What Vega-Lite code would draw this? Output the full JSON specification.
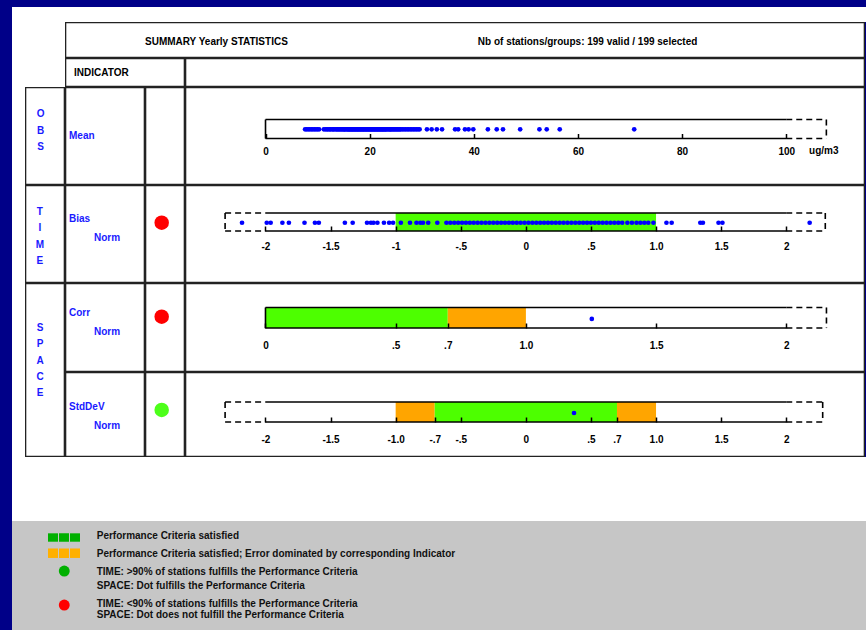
{
"$schema": "https://vega.github.io/schema/vega-lite/v6.json",
"background": "#000088",
"padding": {"left": 12, "top": 7, "right": 0, "bottom": 0},
"spacing": 0,
"config": {
  "view": {"stroke": null, "fill": "white"},
  "concat": {"spacing": 0},
  "text": {"font": "Liberation Sans", "fontSize": 10, "fontWeight": "bold", "color": "#000"},
  "axis": {"labelFont": "Liberation Sans", "labelFontSize": 10, "labelFontWeight": "bold", "labelColor": "#000"}
},
"vconcat": [
  {"width": 854, "height": 15, "data": {"values": [{}]}, "mark": {"type": "text", "text": ""}, "encoding": {"x": {"datum": 50, "type": "quantitative", "scale": {"domain": [0, 100]}, "axis": null}, "y": {"datum": 50, "type": "quantitative", "scale": {"domain": [0, 100]}, "axis": null}}},
  {"hconcat": [
    {"width": 53, "height": 36, "data": {"values": [{}]}, "mark": {"type": "text", "text": ""}, "encoding": {"x": {"datum": 50, "type": "quantitative", "scale": {"domain": [0, 100]}, "axis": null}, "y": {"datum": 50, "type": "quantitative", "scale": {"domain": [0, 100]}, "axis": null}}},
    {"width": 800, "height": 36, "data": {"values": [{}]}, "layer": [
      {"mark": {"type": "text", "text": "SUMMARY Yearly STATISTICS", "align": "left", "baseline": "middle"},
       "encoding": {"x": {"datum": 10, "type": "quantitative", "scale": {"domain": [0, 100], "nice": false, "zero": false}, "axis": null},
                    "y": {"datum": 55.6, "type": "quantitative", "scale": {"domain": [0, 100], "nice": false, "zero": false, "reverse": true}, "axis": null}}},
      {"mark": {"type": "text", "text": "Nb of stations/groups: 199 valid / 199 selected", "align": "left", "baseline": "middle"},
       "encoding": {"x": {"datum": 51.6, "type": "quantitative", "axis": null}, "y": {"datum": 55.6, "type": "quantitative", "axis": null}}},
      {"mark": {"type": "rect", "filled": false, "color": "#222", "strokeWidth": 2.6, "clip": true}, "encoding": {"x": {"datum": 0, "type": "quantitative", "axis": null}, "x2": {"datum": 100}, "y": {"datum": 0, "type": "quantitative", "axis": null}, "y2": {"datum": 100}}}
    ]}
  ]},
  {"hconcat": [
    {"width": 53, "height": 29, "data": {"values": [{}]}, "mark": {"type": "text", "text": ""}, "encoding": {"x": {"datum": 50, "type": "quantitative", "scale": {"domain": [0, 100]}, "axis": null}, "y": {"datum": 50, "type": "quantitative", "scale": {"domain": [0, 100]}, "axis": null}}},
    {"width": 120, "height": 29, "data": {"values": [{}]}, "layer": [
      {"mark": {"type": "text", "text": "INDICATOR", "align": "left", "baseline": "middle"},
       "encoding": {"x": {"datum": 7.5, "type": "quantitative", "scale": {"domain": [0, 100], "nice": false, "zero": false}, "axis": null},
                    "y": {"datum": 52.8, "type": "quantitative", "scale": {"domain": [0, 100], "nice": false, "zero": false, "reverse": true}, "axis": null}}},
      {"mark": {"type": "rect", "filled": false, "color": "#222", "strokeWidth": 2.6, "clip": true}, "encoding": {"x": {"datum": 0, "type": "quantitative", "axis": null}, "x2": {"datum": 100}, "y": {"datum": 0, "type": "quantitative", "axis": null}, "y2": {"datum": 100}}}
    ]},
    {"width": 680, "height": 29, "data": {"values": [{}]}, "layer": [
      {"mark": {"type": "rect", "filled": false, "color": "#222", "strokeWidth": 2.6, "clip": true}, "encoding": {"x": {"datum": 0, "type": "quantitative", "scale": {"domain": [0, 100], "nice": false, "zero": false}, "axis": null}, "x2": {"datum": 100}, "y": {"datum": 0, "type": "quantitative", "scale": {"domain": [0, 100], "nice": false, "zero": false, "reverse": true}, "axis": null}, "y2": {"datum": 100}}}
    ]}
  ]},
  {"hconcat": [
    {"width": 13, "height": 98, "data": {"values": [{}]}, "mark": {"type": "text", "text": ""}, "encoding": {"x": {"datum": 50, "type": "quantitative", "scale": {"domain": [0, 100]}, "axis": null}, "y": {"datum": 50, "type": "quantitative", "scale": {"domain": [0, 100]}, "axis": null}}},
    {"width": 40, "height": 98, "data": {"values": [{}]}, "layer": [
      {"mark": {"type": "text", "text": ["O", "B", "S"], "lineHeight": 16.5, "align": "center", "baseline": "middle", "color": "#1a1aff"},
       "encoding": {"x": {"datum": 39, "type": "quantitative", "scale": {"domain": [0, 100], "nice": false, "zero": false}, "axis": null},
                    "y": {"datum": 27.6, "type": "quantitative", "scale": {"domain": [0, 100], "nice": false, "zero": false, "reverse": true}, "axis": null}}},
      {"mark": {"type": "rect", "filled": false, "color": "#222", "strokeWidth": 2.6, "clip": true}, "encoding": {"x": {"datum": 0, "type": "quantitative", "axis": null}, "x2": {"datum": 100}, "y": {"datum": 0, "type": "quantitative", "axis": null}, "y2": {"datum": 100}}}
    ]},
    {"width": 80, "height": 98, "data": {"values": [{}]}, "layer": [
      {"mark": {"type": "text", "text": "Mean", "align": "left", "baseline": "middle", "color": "#1a1aff"},
       "encoding": {"x": {"datum": 5, "type": "quantitative", "scale": {"domain": [0, 100], "nice": false, "zero": false}, "axis": null},
                    "y": {"datum": 49.7, "type": "quantitative", "scale": {"domain": [0, 100], "nice": false, "zero": false, "reverse": true}, "axis": null}}},
      {"mark": {"type": "rect", "filled": false, "color": "#222", "strokeWidth": 2.6, "clip": true}, "encoding": {"x": {"datum": 0, "type": "quantitative", "axis": null}, "x2": {"datum": 100}, "y": {"datum": 0, "type": "quantitative", "axis": null}, "y2": {"datum": 100}}}
    ]},
    {"width": 40, "height": 98, "data": {"values": [{}]}, "layer": [
      {"mark": {"type": "rect", "filled": false, "color": "#222", "strokeWidth": 2.6, "clip": true}, "encoding": {"x": {"datum": 0, "type": "quantitative", "scale": {"domain": [0, 100], "nice": false, "zero": false}, "axis": null}, "x2": {"datum": 100}, "y": {"datum": 0, "type": "quantitative", "scale": {"domain": [0, 100], "nice": false, "zero": false, "reverse": true}, "axis": null}, "y2": {"datum": 100}}}
    ]},
    {"width": 680, "height": 98, "data": {"values": [{}]}, "layer": [
      {"data": {"values": [{"mean": 7.6}, {"mean": 7.9}, {"mean": 8.2}, {"mean": 8.5}, {"mean": 8.8}, {"mean": 9.1}, {"mean": 9.4}, {"mean": 9.7}, {"mean": 10.0}, {"mean": 10.3}, {"mean": 11.2}, {"mean": 11.5}, {"mean": 11.8}, {"mean": 12.0}, {"mean": 12.3}, {"mean": 12.5}, {"mean": 12.8}, {"mean": 13.0}, {"mean": 13.2}, {"mean": 13.5}, {"mean": 13.7}, {"mean": 13.9}, {"mean": 14.1}, {"mean": 14.3}, {"mean": 14.5}, {"mean": 14.7}, {"mean": 14.9}, {"mean": 15.1}, {"mean": 15.2}, {"mean": 15.4}, {"mean": 15.6}, {"mean": 15.8}, {"mean": 15.9}, {"mean": 16.1}, {"mean": 16.2}, {"mean": 16.4}, {"mean": 16.5}, {"mean": 16.7}, {"mean": 16.8}, {"mean": 17.0}, {"mean": 17.1}, {"mean": 17.3}, {"mean": 17.4}, {"mean": 17.6}, {"mean": 17.7}, {"mean": 17.9}, {"mean": 18.0}, {"mean": 18.2}, {"mean": 18.3}, {"mean": 18.5}, {"mean": 18.6}, {"mean": 18.8}, {"mean": 18.9}, {"mean": 19.1}, {"mean": 19.2}, {"mean": 19.4}, {"mean": 19.5}, {"mean": 19.7}, {"mean": 19.8}, {"mean": 20.0}, {"mean": 20.1}, {"mean": 20.3}, {"mean": 20.4}, {"mean": 20.6}, {"mean": 20.7}, {"mean": 20.9}, {"mean": 21.0}, {"mean": 21.2}, {"mean": 21.3}, {"mean": 21.5}, {"mean": 21.6}, {"mean": 21.8}, {"mean": 21.9}, {"mean": 22.1}, {"mean": 22.2}, {"mean": 22.4}, {"mean": 22.5}, {"mean": 22.7}, {"mean": 22.8}, {"mean": 23.0}, {"mean": 23.1}, {"mean": 23.3}, {"mean": 23.5}, {"mean": 23.7}, {"mean": 23.9}, {"mean": 24.0}, {"mean": 24.2}, {"mean": 24.4}, {"mean": 24.6}, {"mean": 24.8}, {"mean": 25.0}, {"mean": 25.2}, {"mean": 25.4}, {"mean": 25.6}, {"mean": 25.8}, {"mean": 26.0}, {"mean": 26.3}, {"mean": 26.6}, {"mean": 26.9}, {"mean": 27.2}, {"mean": 27.5}, {"mean": 27.8}, {"mean": 28.1}, {"mean": 28.4}, {"mean": 28.7}, {"mean": 29.0}, {"mean": 29.3}, {"mean": 29.6}, {"mean": 31.0}, {"mean": 31.9}, {"mean": 32.9}, {"mean": 33.9}, {"mean": 36.4}, {"mean": 37.0}, {"mean": 38.3}, {"mean": 39.0}, {"mean": 39.9}, {"mean": 42.7}, {"mean": 44.4}, {"mean": 45.6}, {"mean": 48.9}, {"mean": 52.6}, {"mean": 54.0}, {"mean": 56.5}, {"mean": 70.8}]},
       "mark": {"type": "point", "filled": true, "color": "#0000ff", "size": 22, "opacity": 1},
       "encoding": {
         "x": {"field": "mean", "type": "quantitative", "scale": {"domain": [-15.46, 115.12], "nice": false, "zero": false},
               "axis": {"orient": "bottom", "offset": -46.5, "values": [0, 20, 40, 60, 80, 100], "domain": false, "grid": false, "ticks": true, "tickSize": -5, "tickWidth": 1.5, "tickColor": "#000", "labelPadding": 17.5, "labelBaseline": "middle", "labelFlush": false, "labelOverlap": false, "labelBound": false, "title": null, "zindex": 1}},
         "y": {"datum": 43.2, "type": "quantitative", "scale": {"domain": [0, 100], "nice": false, "zero": false, "reverse": true}, "axis": null}}},
      {"mark": {"type": "rule", "color": "#000", "strokeWidth": 1.6}, "encoding": {"x": {"datum": 0, "type": "quantitative"}, "x2": {"datum": 100}, "y": {"datum": 33.2, "type": "quantitative", "axis": null}}},
      {"mark": {"type": "rule", "color": "#000", "strokeWidth": 1.6}, "encoding": {"x": {"datum": 0, "type": "quantitative"}, "x2": {"datum": 100}, "y": {"datum": 52.6, "type": "quantitative", "axis": null}}},
      {"mark": {"type": "rule", "color": "#000", "strokeWidth": 1.6}, "encoding": {"x": {"datum": 0, "type": "quantitative"}, "y": {"datum": 33.2, "type": "quantitative", "axis": null}, "y2": {"datum": 52.6}}},
      {"mark": {"type": "rule", "color": "#000", "strokeWidth": 1.6, "strokeDash": [6, 4]}, "encoding": {"x": {"datum": 100, "type": "quantitative"}, "x2": {"datum": 107.7}, "y": {"datum": 33.2, "type": "quantitative", "axis": null}}},
      {"mark": {"type": "rule", "color": "#000", "strokeWidth": 1.6, "strokeDash": [6, 4]}, "encoding": {"x": {"datum": 100, "type": "quantitative"}, "x2": {"datum": 107.7}, "y": {"datum": 52.6, "type": "quantitative", "axis": null}}},
      {"mark": {"type": "rule", "color": "#000", "strokeWidth": 1.6, "strokeDash": [6, 4]}, "encoding": {"x": {"datum": 107.7, "type": "quantitative"}, "y": {"datum": 33.2, "type": "quantitative", "axis": null}, "y2": {"datum": 52.6}}},
      {"mark": {"type": "text", "text": "ug/m3", "align": "center", "baseline": "middle"}, "encoding": {"x": {"datum": 107.2, "type": "quantitative"}, "y": {"datum": 65.3, "type": "quantitative", "axis": null}}},
      {"mark": {"type": "rect", "filled": false, "color": "#222", "strokeWidth": 2.6, "clip": true}, "encoding": {"x": {"datum": -15.46, "type": "quantitative"}, "x2": {"datum": 115.12}, "y": {"datum": 0, "type": "quantitative", "axis": null}, "y2": {"datum": 100}}}
    ]}
  ]},
  {"hconcat": [
    {"width": 13, "height": 98, "data": {"values": [{}]}, "mark": {"type": "text", "text": ""}, "encoding": {"x": {"datum": 50, "type": "quantitative", "scale": {"domain": [0, 100]}, "axis": null}, "y": {"datum": 50, "type": "quantitative", "scale": {"domain": [0, 100]}, "axis": null}}},
    {"width": 40, "height": 98, "data": {"values": [{}]}, "layer": [
      {"mark": {"type": "text", "text": ["T", "I", "M", "E"], "lineHeight": 16.3, "align": "center", "baseline": "middle", "color": "#1a1aff"},
       "encoding": {"x": {"datum": 37, "type": "quantitative", "scale": {"domain": [0, 100], "nice": false, "zero": false}, "axis": null},
                    "y": {"datum": 27.6, "type": "quantitative", "scale": {"domain": [0, 100], "nice": false, "zero": false, "reverse": true}, "axis": null}}},
      {"mark": {"type": "rect", "filled": false, "color": "#222", "strokeWidth": 2.6, "clip": true}, "encoding": {"x": {"datum": 0, "type": "quantitative", "axis": null}, "x2": {"datum": 100}, "y": {"datum": 0, "type": "quantitative", "axis": null}, "y2": {"datum": 100}}}
    ]},
    {"width": 80, "height": 98, "data": {"values": [{}]}, "layer": [
      {"mark": {"type": "text", "text": "Bias", "align": "left", "baseline": "middle", "color": "#1a1aff"},
       "encoding": {"x": {"datum": 5, "type": "quantitative", "scale": {"domain": [0, 100], "nice": false, "zero": false}, "axis": null},
                    "y": {"datum": 35, "type": "quantitative", "scale": {"domain": [0, 100], "nice": false, "zero": false, "reverse": true}, "axis": null}}},
      {"mark": {"type": "text", "text": "Norm", "align": "left", "baseline": "middle", "color": "#1a1aff"},
       "encoding": {"x": {"datum": 36.25, "type": "quantitative", "axis": null}, "y": {"datum": 54.4, "type": "quantitative", "axis": null}}},
      {"mark": {"type": "rect", "filled": false, "color": "#222", "strokeWidth": 2.6, "clip": true}, "encoding": {"x": {"datum": 0, "type": "quantitative", "axis": null}, "x2": {"datum": 100}, "y": {"datum": 0, "type": "quantitative", "axis": null}, "y2": {"datum": 100}}}
    ]},
    {"width": 40, "height": 98, "data": {"values": [{}]}, "layer": [
      {"data": {"values": [{"indicator": "Bias", "status": "fail"}]}, "mark": {"type": "point", "filled": true, "size": 210, "opacity": 1},
       "encoding": {"x": {"datum": 41.7, "type": "quantitative", "scale": {"domain": [0, 100], "nice": false, "zero": false}, "axis": null},
                    "y": {"datum": 38.5, "type": "quantitative", "scale": {"domain": [0, 100], "nice": false, "zero": false, "reverse": true}, "axis": null},
                    "color": {"field": "status", "type": "nominal", "scale": {"domain": ["satisfied", "dominated", "pass", "fail"], "range": ["#4dff00", "#ffa500", "#4dff1a", "#ff0000"]}, "legend": null}}},
      {"mark": {"type": "rect", "filled": false, "color": "#222", "strokeWidth": 2.6, "clip": true}, "encoding": {"x": {"datum": 0, "type": "quantitative", "axis": null}, "x2": {"datum": 100}, "y": {"datum": 0, "type": "quantitative", "axis": null}, "y2": {"datum": 100}}}
    ]},
    {"width": 680, "height": 98, "data": {"values": [{}]}, "layer": [
      {"data": {"values": [{"lo": -1, "hi": 1, "status": "satisfied"}]}, "mark": {"type": "rect"},
       "encoding": {
         "x": {"field": "lo", "type": "quantitative", "scale": {"domain": [-2.618, 2.605], "nice": false, "zero": false},
               "axis": {"orient": "bottom", "offset": -52, "values": [-2, -1.5, -1, -0.5, 0, 0.5, 1, 1.5, 2], "labelExpr": "['-2','-1.5','-1','-.5','0','.5','1.0','1.5','2'][indexof([-2,-1.5,-1,-0.5,0,0.5,1,1.5,2], datum.value)]", "domain": false, "grid": false, "ticks": true, "tickSize": -5, "tickWidth": 1.5, "tickColor": "#000", "labelPadding": 20, "labelBaseline": "middle", "labelFlush": false, "labelOverlap": false, "labelBound": false, "title": null, "zindex": 1}},
         "x2": {"field": "hi"},
         "y": {"datum": 28.6, "type": "quantitative", "scale": {"domain": [0, 100], "nice": false, "zero": false, "reverse": true}, "axis": null},
         "y2": {"datum": 46.9},
         "color": {"field": "status", "type": "nominal", "scale": {"domain": ["satisfied", "dominated", "pass", "fail"], "range": ["#4dff00", "#ffa500", "#4dff1a", "#ff0000"]}, "legend": null}}},
      {"mark": {"type": "rule", "color": "#000", "strokeWidth": 1.6}, "encoding": {"x": {"datum": -2, "type": "quantitative"}, "x2": {"datum": 2}, "y": {"datum": 28.6, "type": "quantitative", "axis": null}}},
      {"mark": {"type": "rule", "color": "#000", "strokeWidth": 1.6}, "encoding": {"x": {"datum": -2, "type": "quantitative"}, "x2": {"datum": 2}, "y": {"datum": 46.9, "type": "quantitative", "axis": null}}},
      {"mark": {"type": "rule", "color": "#000", "strokeWidth": 1.6, "strokeDash": [6, 4]}, "encoding": {"x": {"datum": -2.31, "type": "quantitative"}, "x2": {"datum": -2}, "y": {"datum": 28.6, "type": "quantitative", "axis": null}}},
      {"mark": {"type": "rule", "color": "#000", "strokeWidth": 1.6, "strokeDash": [6, 4]}, "encoding": {"x": {"datum": -2.31, "type": "quantitative"}, "x2": {"datum": -2}, "y": {"datum": 46.9, "type": "quantitative", "axis": null}}},
      {"mark": {"type": "rule", "color": "#000", "strokeWidth": 1.6, "strokeDash": [6, 4]}, "encoding": {"x": {"datum": -2.31, "type": "quantitative"}, "y": {"datum": 28.6, "type": "quantitative", "axis": null}, "y2": {"datum": 46.9}}},
      {"mark": {"type": "rule", "color": "#000", "strokeWidth": 1.6, "strokeDash": [6, 4]}, "encoding": {"x": {"datum": 2, "type": "quantitative"}, "x2": {"datum": 2.3}, "y": {"datum": 28.6, "type": "quantitative", "axis": null}}},
      {"mark": {"type": "rule", "color": "#000", "strokeWidth": 1.6, "strokeDash": [6, 4]}, "encoding": {"x": {"datum": 2, "type": "quantitative"}, "x2": {"datum": 2.3}, "y": {"datum": 46.9, "type": "quantitative", "axis": null}}},
      {"mark": {"type": "rule", "color": "#000", "strokeWidth": 1.6, "strokeDash": [6, 4]}, "encoding": {"x": {"datum": 2.3, "type": "quantitative"}, "y": {"datum": 28.6, "type": "quantitative", "axis": null}, "y2": {"datum": 46.9}}},
      {"data": {"values": [{"bias": -2.18}, {"bias": -1.99}, {"bias": -1.96}, {"bias": -1.87}, {"bias": -1.82}, {"bias": -1.70}, {"bias": -1.62}, {"bias": -1.59}, {"bias": -1.39}, {"bias": -1.33}, {"bias": -1.22}, {"bias": -1.19}, {"bias": -1.17}, {"bias": -1.14}, {"bias": -1.09}, {"bias": -1.05}, {"bias": -1.02}, {"bias": -0.96}, {"bias": -0.89}, {"bias": -0.84}, {"bias": -0.81}, {"bias": -0.79}, {"bias": -0.75}, {"bias": -0.68}, {"bias": -0.61}, {"bias": -0.58}, {"bias": -0.55}, {"bias": -0.52}, {"bias": -0.49}, {"bias": -0.46}, {"bias": -0.43}, {"bias": -0.40}, {"bias": -0.37}, {"bias": -0.34}, {"bias": -0.31}, {"bias": -0.28}, {"bias": -0.25}, {"bias": -0.22}, {"bias": -0.19}, {"bias": -0.16}, {"bias": -0.13}, {"bias": -0.10}, {"bias": -0.07}, {"bias": -0.04}, {"bias": -0.01}, {"bias": 0.02}, {"bias": 0.05}, {"bias": 0.08}, {"bias": 0.11}, {"bias": 0.14}, {"bias": 0.17}, {"bias": 0.20}, {"bias": 0.23}, {"bias": 0.26}, {"bias": 0.29}, {"bias": 0.32}, {"bias": 0.35}, {"bias": 0.38}, {"bias": 0.41}, {"bias": 0.44}, {"bias": 0.47}, {"bias": 0.50}, {"bias": 0.53}, {"bias": 0.56}, {"bias": 0.59}, {"bias": 0.62}, {"bias": 0.65}, {"bias": 0.68}, {"bias": 0.71}, {"bias": 0.74}, {"bias": 0.78}, {"bias": 0.815}, {"bias": 0.85}, {"bias": 0.88}, {"bias": 0.91}, {"bias": 0.94}, {"bias": 0.98}, {"bias": 1.08}, {"bias": 1.12}, {"bias": 1.34}, {"bias": 1.36}, {"bias": 1.48}, {"bias": 1.51}, {"bias": 2.18}]},
       "mark": {"type": "point", "filled": true, "color": "#0000ff", "size": 22, "opacity": 1},
       "encoding": {"x": {"field": "bias", "type": "quantitative"}, "y": {"datum": 38.5, "type": "quantitative", "axis": null}}},
      {"mark": {"type": "rect", "filled": false, "color": "#222", "strokeWidth": 2.6, "clip": true}, "encoding": {"x": {"datum": -2.618, "type": "quantitative"}, "x2": {"datum": 2.605}, "y": {"datum": 0, "type": "quantitative", "axis": null}, "y2": {"datum": 100}}}
    ]}
  ]},
  {"hconcat": [
    {"width": 13, "height": 174, "data": {"values": [{}]}, "mark": {"type": "text", "text": ""}, "encoding": {"x": {"datum": 50, "type": "quantitative", "scale": {"domain": [0, 100]}, "axis": null}, "y": {"datum": 50, "type": "quantitative", "scale": {"domain": [0, 100]}, "axis": null}}},
    {"width": 40, "height": 174, "data": {"values": [{}]}, "layer": [
      {"mark": {"type": "text", "text": ["S", "P", "A", "C", "E"], "lineHeight": 16.25, "align": "center", "baseline": "middle", "color": "#1a1aff"},
       "encoding": {"x": {"datum": 38, "type": "quantitative", "scale": {"domain": [0, 100], "nice": false, "zero": false}, "axis": null},
                    "y": {"datum": 25.9, "type": "quantitative", "scale": {"domain": [0, 100], "nice": false, "zero": false, "reverse": true}, "axis": null}}},
      {"mark": {"type": "rect", "filled": false, "color": "#222", "strokeWidth": 2.6, "clip": true}, "encoding": {"x": {"datum": 0, "type": "quantitative", "axis": null}, "x2": {"datum": 100}, "y": {"datum": 0, "type": "quantitative", "axis": null}, "y2": {"datum": 100}}}
    ]},
    {"vconcat": [
      {"hconcat": [
        {"width": 80, "height": 89, "data": {"values": [{}]}, "layer": [
          {"mark": {"type": "text", "text": "Corr", "align": "left", "baseline": "middle", "color": "#1a1aff"},
           "encoding": {"x": {"datum": 5, "type": "quantitative", "scale": {"domain": [0, 100], "nice": false, "zero": false}, "axis": null},
                        "y": {"datum": 33.4, "type": "quantitative", "scale": {"domain": [0, 100], "nice": false, "zero": false, "reverse": true}, "axis": null}}},
          {"mark": {"type": "text", "text": "Norm", "align": "left", "baseline": "middle", "color": "#1a1aff"},
           "encoding": {"x": {"datum": 36.25, "type": "quantitative", "axis": null}, "y": {"datum": 54.7, "type": "quantitative", "axis": null}}},
          {"mark": {"type": "rect", "filled": false, "color": "#222", "strokeWidth": 2.6, "clip": true}, "encoding": {"x": {"datum": 0, "type": "quantitative", "axis": null}, "x2": {"datum": 100}, "y": {"datum": 0, "type": "quantitative", "axis": null}, "y2": {"datum": 100}}}
        ]},
        {"width": 40, "height": 89, "data": {"values": [{}]}, "layer": [
          {"data": {"values": [{"indicator": "Corr", "status": "fail"}]}, "mark": {"type": "point", "filled": true, "size": 210, "opacity": 1},
           "encoding": {"x": {"datum": 41.7, "type": "quantitative", "scale": {"domain": [0, 100], "nice": false, "zero": false}, "axis": null},
                        "y": {"datum": 37.9, "type": "quantitative", "scale": {"domain": [0, 100], "nice": false, "zero": false, "reverse": true}, "axis": null},
                        "color": {"field": "status", "type": "nominal", "scale": {"domain": ["satisfied", "dominated", "pass", "fail"], "range": ["#4dff00", "#ffa500", "#4dff1a", "#ff0000"]}, "legend": null}}},
          {"mark": {"type": "rect", "filled": false, "color": "#222", "strokeWidth": 2.6, "clip": true}, "encoding": {"x": {"datum": 0, "type": "quantitative", "axis": null}, "x2": {"datum": 100}, "y": {"datum": 0, "type": "quantitative", "axis": null}, "y2": {"datum": 100}}}
        ]},
        {"width": 680, "height": 89, "data": {"values": [{}]}, "layer": [
          {"data": {"values": [{"lo": 0, "hi": 0.7, "status": "satisfied"}, {"lo": 0.7, "hi": 1, "status": "dominated"}]}, "mark": {"type": "rect"},
           "encoding": {
             "x": {"field": "lo", "type": "quantitative", "scale": {"domain": [-0.309, 2.302], "nice": false, "zero": false},
                   "axis": {"orient": "bottom", "offset": -44, "values": [0, 0.5, 0.7, 1, 1.5, 2], "labelExpr": "['0','.5','.7','1.0','1.5','2'][indexof([0,0.5,0.7,1,1.5,2], datum.value)]", "domain": false, "grid": false, "ticks": true, "tickSize": -5, "tickWidth": 1.5, "tickColor": "#000", "labelPadding": 22, "labelBaseline": "middle", "labelFlush": false, "labelOverlap": false, "labelBound": false, "title": null, "zindex": 1}},
             "x2": {"field": "hi"},
             "y": {"datum": 27.5, "type": "quantitative", "scale": {"domain": [0, 100], "nice": false, "zero": false, "reverse": true}, "axis": null},
             "y2": {"datum": 50.6},
             "color": {"field": "status", "type": "nominal", "scale": {"domain": ["satisfied", "dominated", "pass", "fail"], "range": ["#4dff00", "#ffa500", "#4dff1a", "#ff0000"]}, "legend": null}}},
          {"mark": {"type": "rule", "color": "#000", "strokeWidth": 1.6}, "encoding": {"x": {"datum": 0, "type": "quantitative"}, "x2": {"datum": 2}, "y": {"datum": 27.5, "type": "quantitative", "axis": null}}},
          {"mark": {"type": "rule", "color": "#000", "strokeWidth": 1.6}, "encoding": {"x": {"datum": 0, "type": "quantitative"}, "x2": {"datum": 2}, "y": {"datum": 50.6, "type": "quantitative", "axis": null}}},
          {"mark": {"type": "rule", "color": "#000", "strokeWidth": 1.6}, "encoding": {"x": {"datum": 0, "type": "quantitative"}, "y": {"datum": 27.5, "type": "quantitative", "axis": null}, "y2": {"datum": 50.6}}},
          {"mark": {"type": "rule", "color": "#000", "strokeWidth": 1.6, "strokeDash": [6, 4]}, "encoding": {"x": {"datum": 2, "type": "quantitative"}, "x2": {"datum": 2.154}, "y": {"datum": 27.5, "type": "quantitative", "axis": null}}},
          {"mark": {"type": "rule", "color": "#000", "strokeWidth": 1.6, "strokeDash": [6, 4]}, "encoding": {"x": {"datum": 2, "type": "quantitative"}, "x2": {"datum": 2.154}, "y": {"datum": 50.6, "type": "quantitative", "axis": null}}},
          {"mark": {"type": "rule", "color": "#000", "strokeWidth": 1.6, "strokeDash": [6, 4]}, "encoding": {"x": {"datum": 2.154, "type": "quantitative"}, "y": {"datum": 27.5, "type": "quantitative", "axis": null}, "y2": {"datum": 50.6}}},
          {"data": {"values": [{"corr": 1.253}]}, "mark": {"type": "point", "filled": true, "color": "#0000ff", "size": 22, "opacity": 1},
           "encoding": {"x": {"field": "corr", "type": "quantitative"}, "y": {"datum": 40.4, "type": "quantitative", "axis": null}}},
          {"mark": {"type": "rect", "filled": false, "color": "#222", "strokeWidth": 2.6, "clip": true}, "encoding": {"x": {"datum": -0.309, "type": "quantitative"}, "x2": {"datum": 2.302}, "y": {"datum": 0, "type": "quantitative", "axis": null}, "y2": {"datum": 100}}}
        ]}
      ]},
      {"hconcat": [
        {"width": 80, "height": 85, "data": {"values": [{}]}, "layer": [
          {"mark": {"type": "text", "text": "StdDeV", "align": "left", "baseline": "middle", "color": "#1a1aff"},
           "encoding": {"x": {"datum": 5, "type": "quantitative", "scale": {"domain": [0, 100], "nice": false, "zero": false}, "axis": null},
                        "y": {"datum": 40.8, "type": "quantitative", "scale": {"domain": [0, 100], "nice": false, "zero": false, "reverse": true}, "axis": null}}},
          {"mark": {"type": "text", "text": "Norm", "align": "left", "baseline": "middle", "color": "#1a1aff"},
           "encoding": {"x": {"datum": 36.25, "type": "quantitative", "axis": null}, "y": {"datum": 63.1, "type": "quantitative", "axis": null}}},
          {"mark": {"type": "rect", "filled": false, "color": "#222", "strokeWidth": 2.6, "clip": true}, "encoding": {"x": {"datum": 0, "type": "quantitative", "axis": null}, "x2": {"datum": 100}, "y": {"datum": 0, "type": "quantitative", "axis": null}, "y2": {"datum": 100}}}
        ]},
        {"width": 40, "height": 85, "data": {"values": [{}]}, "layer": [
          {"data": {"values": [{"indicator": "StdDev", "status": "pass"}]}, "mark": {"type": "point", "filled": true, "size": 210, "opacity": 1},
           "encoding": {"x": {"datum": 41.7, "type": "quantitative", "scale": {"domain": [0, 100], "nice": false, "zero": false}, "axis": null},
                        "y": {"datum": 44.7, "type": "quantitative", "scale": {"domain": [0, 100], "nice": false, "zero": false, "reverse": true}, "axis": null},
                        "color": {"field": "status", "type": "nominal", "scale": {"domain": ["satisfied", "dominated", "pass", "fail"], "range": ["#4dff00", "#ffa500", "#4dff1a", "#ff0000"]}, "legend": null}}},
          {"mark": {"type": "rect", "filled": false, "color": "#222", "strokeWidth": 2.6, "clip": true}, "encoding": {"x": {"datum": 0, "type": "quantitative", "axis": null}, "x2": {"datum": 100}, "y": {"datum": 0, "type": "quantitative", "axis": null}, "y2": {"datum": 100}}}
        ]},
        {"width": 680, "height": 85, "data": {"values": [{}]}, "layer": [
          {"data": {"values": [{"lo": -1, "hi": -0.7, "status": "dominated"}, {"lo": -0.7, "hi": 0.7, "status": "satisfied"}, {"lo": 0.7, "hi": 1, "status": "dominated"}]}, "mark": {"type": "rect"},
           "encoding": {
             "x": {"field": "lo", "type": "quantitative", "scale": {"domain": [-2.618, 2.605], "nice": false, "zero": false},
                   "axis": {"orient": "bottom", "offset": -35, "values": [-2, -1.5, -1, -0.7, -0.5, 0, 0.5, 0.7, 1, 1.5, 2], "labelExpr": "['-2','-1.5','-1.0','-.7','-.5','0','.5','.7','1.0','1.5','2'][indexof([-2,-1.5,-1,-0.7,-0.5,0,0.5,0.7,1,1.5,2], datum.value)]", "domain": false, "grid": false, "ticks": true, "tickSize": -5, "tickWidth": 1.5, "tickColor": "#000", "labelPadding": 22.5, "labelBaseline": "middle", "labelFlush": false, "labelOverlap": false, "labelBound": false, "title": null, "zindex": 1}},
             "x2": {"field": "hi"},
             "y": {"datum": 35.3, "type": "quantitative", "scale": {"domain": [0, 100], "nice": false, "zero": false, "reverse": true}, "axis": null},
             "y2": {"datum": 58.8},
             "color": {"field": "status", "type": "nominal", "scale": {"domain": ["satisfied", "dominated", "pass", "fail"], "range": ["#4dff00", "#ffa500", "#4dff1a", "#ff0000"]}, "legend": null}}},
          {"mark": {"type": "rule", "color": "#000", "strokeWidth": 1.6}, "encoding": {"x": {"datum": -2, "type": "quantitative"}, "x2": {"datum": 2}, "y": {"datum": 35.3, "type": "quantitative", "axis": null}}},
          {"mark": {"type": "rule", "color": "#000", "strokeWidth": 1.6}, "encoding": {"x": {"datum": -2, "type": "quantitative"}, "x2": {"datum": 2}, "y": {"datum": 58.8, "type": "quantitative", "axis": null}}},
          {"mark": {"type": "rule", "color": "#000", "strokeWidth": 1.6, "strokeDash": [6, 4]}, "encoding": {"x": {"datum": -2.31, "type": "quantitative"}, "x2": {"datum": -2}, "y": {"datum": 35.3, "type": "quantitative", "axis": null}}},
          {"mark": {"type": "rule", "color": "#000", "strokeWidth": 1.6, "strokeDash": [6, 4]}, "encoding": {"x": {"datum": -2.31, "type": "quantitative"}, "x2": {"datum": -2}, "y": {"datum": 58.8, "type": "quantitative", "axis": null}}},
          {"mark": {"type": "rule", "color": "#000", "strokeWidth": 1.6, "strokeDash": [6, 4]}, "encoding": {"x": {"datum": -2.31, "type": "quantitative"}, "y": {"datum": 35.3, "type": "quantitative", "axis": null}, "y2": {"datum": 58.8}}},
          {"mark": {"type": "rule", "color": "#000", "strokeWidth": 1.6, "strokeDash": [6, 4]}, "encoding": {"x": {"datum": 2, "type": "quantitative"}, "x2": {"datum": 2.28}, "y": {"datum": 35.3, "type": "quantitative", "axis": null}}},
          {"mark": {"type": "rule", "color": "#000", "strokeWidth": 1.6, "strokeDash": [6, 4]}, "encoding": {"x": {"datum": 2, "type": "quantitative"}, "x2": {"datum": 2.28}, "y": {"datum": 58.8, "type": "quantitative", "axis": null}}},
          {"mark": {"type": "rule", "color": "#000", "strokeWidth": 1.6, "strokeDash": [6, 4]}, "encoding": {"x": {"datum": 2.28, "type": "quantitative"}, "y": {"datum": 35.3, "type": "quantitative", "axis": null}, "y2": {"datum": 58.8}}},
          {"data": {"values": [{"stddev": 0.37}]}, "mark": {"type": "point", "filled": true, "color": "#0000ff", "size": 22, "opacity": 1},
           "encoding": {"x": {"field": "stddev", "type": "quantitative"}, "y": {"datum": 48.2, "type": "quantitative", "axis": null}}},
          {"mark": {"type": "rect", "filled": false, "color": "#222", "strokeWidth": 2.6, "clip": true}, "encoding": {"x": {"datum": -2.618, "type": "quantitative"}, "x2": {"datum": 2.605}, "y": {"datum": 0, "type": "quantitative", "axis": null}, "y2": {"datum": 100}}}
        ]}
      ]}
    ]}
  ]},
  {"width": 854, "height": 64, "data": {"values": [{}]}, "mark": {"type": "text", "text": ""}, "encoding": {"x": {"datum": 50, "type": "quantitative", "scale": {"domain": [0, 100]}, "axis": null}, "y": {"datum": 50, "type": "quantitative", "scale": {"domain": [0, 100]}, "axis": null}}},
  {"width": 854, "height": 109, "data": {"values": [{}]}, "view": {"fill": "#c6c6c6"}, "layer": [
    {"mark": {"type": "rect", "color": "#00b000"}, "encoding": {"x": {"datum": 4.215, "type": "quantitative", "scale": {"domain": [0, 100], "nice": false, "zero": false}, "axis": null}, "x2": {"datum": 5.386}, "y": {"datum": 11.3, "type": "quantitative", "scale": {"domain": [0, 100], "nice": false, "zero": false, "reverse": true}, "axis": null}, "y2": {"datum": 19.0}}},
    {"mark": {"type": "rect", "color": "#00b000"}, "encoding": {"x": {"datum": 5.504, "type": "quantitative", "axis": null}, "x2": {"datum": 6.674}, "y": {"datum": 11.3, "type": "quantitative", "axis": null}, "y2": {"datum": 19.0}}},
    {"mark": {"type": "rect", "color": "#00b000"}, "encoding": {"x": {"datum": 6.792, "type": "quantitative", "axis": null}, "x2": {"datum": 7.963}, "y": {"datum": 11.3, "type": "quantitative", "axis": null}, "y2": {"datum": 19.0}}},
    {"mark": {"type": "rect", "color": "#ffb000"}, "encoding": {"x": {"datum": 4.215, "type": "quantitative", "axis": null}, "x2": {"datum": 5.386}, "y": {"datum": 25.2, "type": "quantitative", "axis": null}, "y2": {"datum": 33.9}}},
    {"mark": {"type": "rect", "color": "#ffb000"}, "encoding": {"x": {"datum": 5.504, "type": "quantitative", "axis": null}, "x2": {"datum": 6.674}, "y": {"datum": 25.2, "type": "quantitative", "axis": null}, "y2": {"datum": 33.9}}},
    {"mark": {"type": "rect", "color": "#ffb000"}, "encoding": {"x": {"datum": 6.792, "type": "quantitative", "axis": null}, "x2": {"datum": 7.963}, "y": {"datum": 25.2, "type": "quantitative", "axis": null}, "y2": {"datum": 33.9}}},
    {"mark": {"type": "point", "filled": true, "color": "#00b000", "size": 119, "opacity": 1}, "encoding": {"x": {"datum": 6.12, "type": "quantitative", "axis": null}, "y": {"datum": 45.9, "type": "quantitative", "axis": null}}},
    {"mark": {"type": "point", "filled": true, "color": "#ff0000", "size": 119, "opacity": 1}, "encoding": {"x": {"datum": 6.12, "type": "quantitative", "axis": null}, "y": {"datum": 77.1, "type": "quantitative", "axis": null}}},
    {"mark": {"type": "text", "text": "Performance Criteria satisfied", "align": "left", "baseline": "middle", "color": "#111"}, "encoding": {"x": {"datum": 9.92, "type": "quantitative", "axis": null}, "y": {"datum": 13.5, "type": "quantitative", "axis": null}}},
    {"mark": {"type": "text", "text": "Performance Criteria satisfied; Error dominated by corresponding Indicator", "align": "left", "baseline": "middle", "color": "#111"}, "encoding": {"x": {"datum": 9.92, "type": "quantitative", "axis": null}, "y": {"datum": 30.6, "type": "quantitative", "axis": null}}},
    {"mark": {"type": "text", "text": "TIME: >90% of stations fulfills the Performance Criteria", "align": "left", "baseline": "middle", "color": "#111"}, "encoding": {"x": {"datum": 9.92, "type": "quantitative", "axis": null}, "y": {"datum": 46.5, "type": "quantitative", "axis": null}}},
    {"mark": {"type": "text", "text": "SPACE: Dot fulfills the Performance Criteria", "align": "left", "baseline": "middle", "color": "#111"}, "encoding": {"x": {"datum": 9.92, "type": "quantitative", "axis": null}, "y": {"datum": 59.6, "type": "quantitative", "axis": null}}},
    {"mark": {"type": "text", "text": "TIME: <90% of stations fulfills the Performance Criteria", "align": "left", "baseline": "middle", "color": "#111"}, "encoding": {"x": {"datum": 9.92, "type": "quantitative", "axis": null}, "y": {"datum": 76.1, "type": "quantitative", "axis": null}}},
    {"mark": {"type": "text", "text": "SPACE: Dot does not fulfill the Performance Criteria", "align": "left", "baseline": "middle", "color": "#111"}, "encoding": {"x": {"datum": 9.92, "type": "quantitative", "axis": null}, "y": {"datum": 86.2, "type": "quantitative", "axis": null}}}
  ]}
]
}
